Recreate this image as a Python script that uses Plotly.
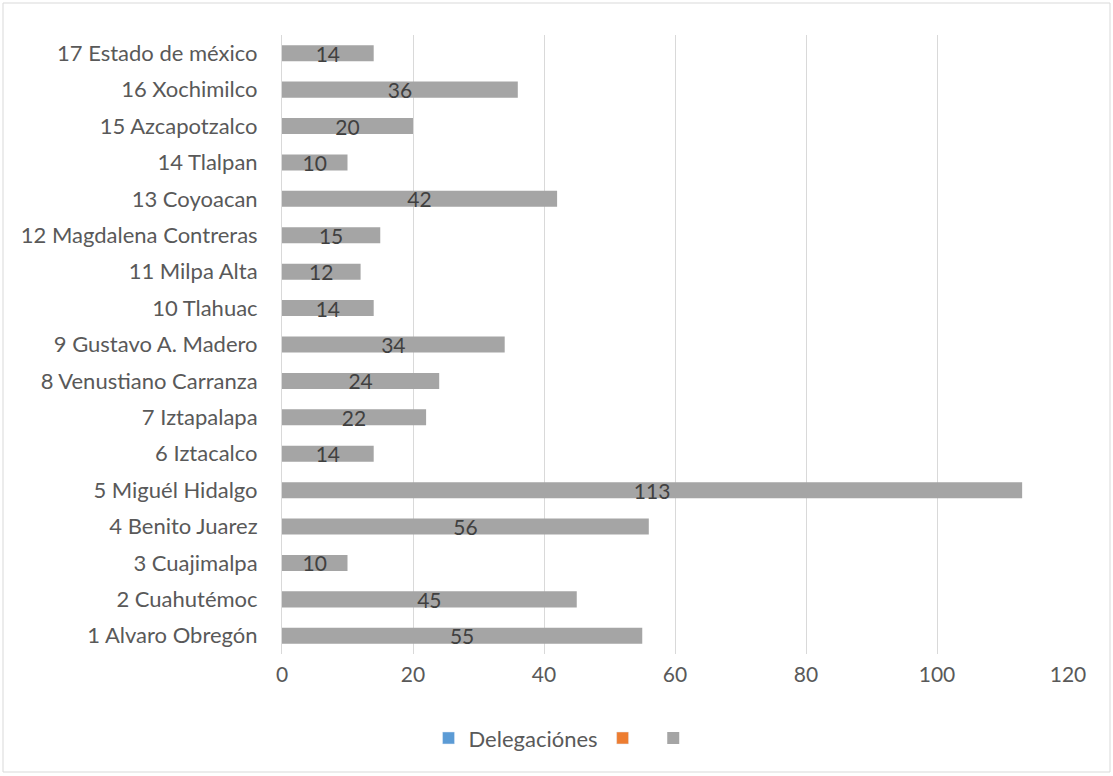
import plotly.graph_objects as go

categories = ["1 Alvaro Obregón", "2 Cuahutémoc", "3 Cuajimalpa", "4 Benito Juarez",
              "5 Miguél Hidalgo", "6 Iztacalco", "7 Iztapalapa", "8 Venustiano Carranza",
              "9 Gustavo A. Madero", "10 Tlahuac", "11 Milpa Alta", "12 Magdalena Contreras",
              "13 Coyoacan", "14 Tlalpan", "15 Azcapotzalco", "16 Xochimilco",
              "17 Estado de méxico"]
values = [55, 45, 10, 56, 113, 14, 22, 24, 34, 14, 12, 15, 42, 10, 20, 36, 14]
x_ticks = [0, 20, 40, 60, 80, 100, 120]

font = "Lato, Open Sans, sans-serif"

fig = go.Figure()
fig.add_trace(go.Bar(y=categories, x=[None] * len(categories), orientation="h",
                     name="Delegaciónes", marker_color="#5B9BD5"))
fig.add_trace(go.Bar(y=categories, x=[None] * len(categories), orientation="h",
                     name=" ", marker_color="#ED7D31"))
fig.add_trace(go.Bar(y=categories, x=values, orientation="h", name=" ",
                     marker=dict(color="#A5A5A5", line=dict(width=0)),
                     text=[str(v) for v in values], textposition="inside",
                     insidetextanchor="middle", textangle=0,
                     textfont=dict(color="#404040", size=21, family=font),
                     width=0.44))

fig.update_layout(
    width=1113, height=776,
    margin=dict(l=282, r=45, t=35, b=122),
    plot_bgcolor="white", paper_bgcolor="white",
    barmode="overlay",
    uniformtext=dict(minsize=21, mode="show"),
    font=dict(family=font, color="#595959", size=21),
    showlegend=True,
    legend=dict(orientation="h", x=0.362, xanchor="center", y=-0.136, yanchor="middle",
                font=dict(size=22, color="#595959"), itemwidth=30, traceorder="normal"),
    xaxis=dict(range=[0, 120], tickvals=x_ticks, showgrid=True, gridcolor="#D9D9D9",
               gridwidth=1, zeroline=False, showline=False, ticks="",
               tickfont=dict(size=21, color="#595959"), ticklabelstandoff=6),
    yaxis=dict(type="category", categoryorder="array", categoryarray=categories,
               showgrid=False, showline=True, linecolor="#D9D9D9", linewidth=1,
               ticks="", tickfont=dict(size=22, color="#595959"), ticklabelstandoff=19),
    shapes=[dict(type="rect", xref="paper", yref="paper",
                 x0=(3 - 282) / 786, x1=(1110 - 282) / 786,
                 y0=(654 - 772) / 619, y1=(654 - 3) / 619,
                 line=dict(color="#D9D9D9", width=1), fillcolor="rgba(0,0,0,0)",
                 layer="below")],
)

fig.write_html("out.html")
